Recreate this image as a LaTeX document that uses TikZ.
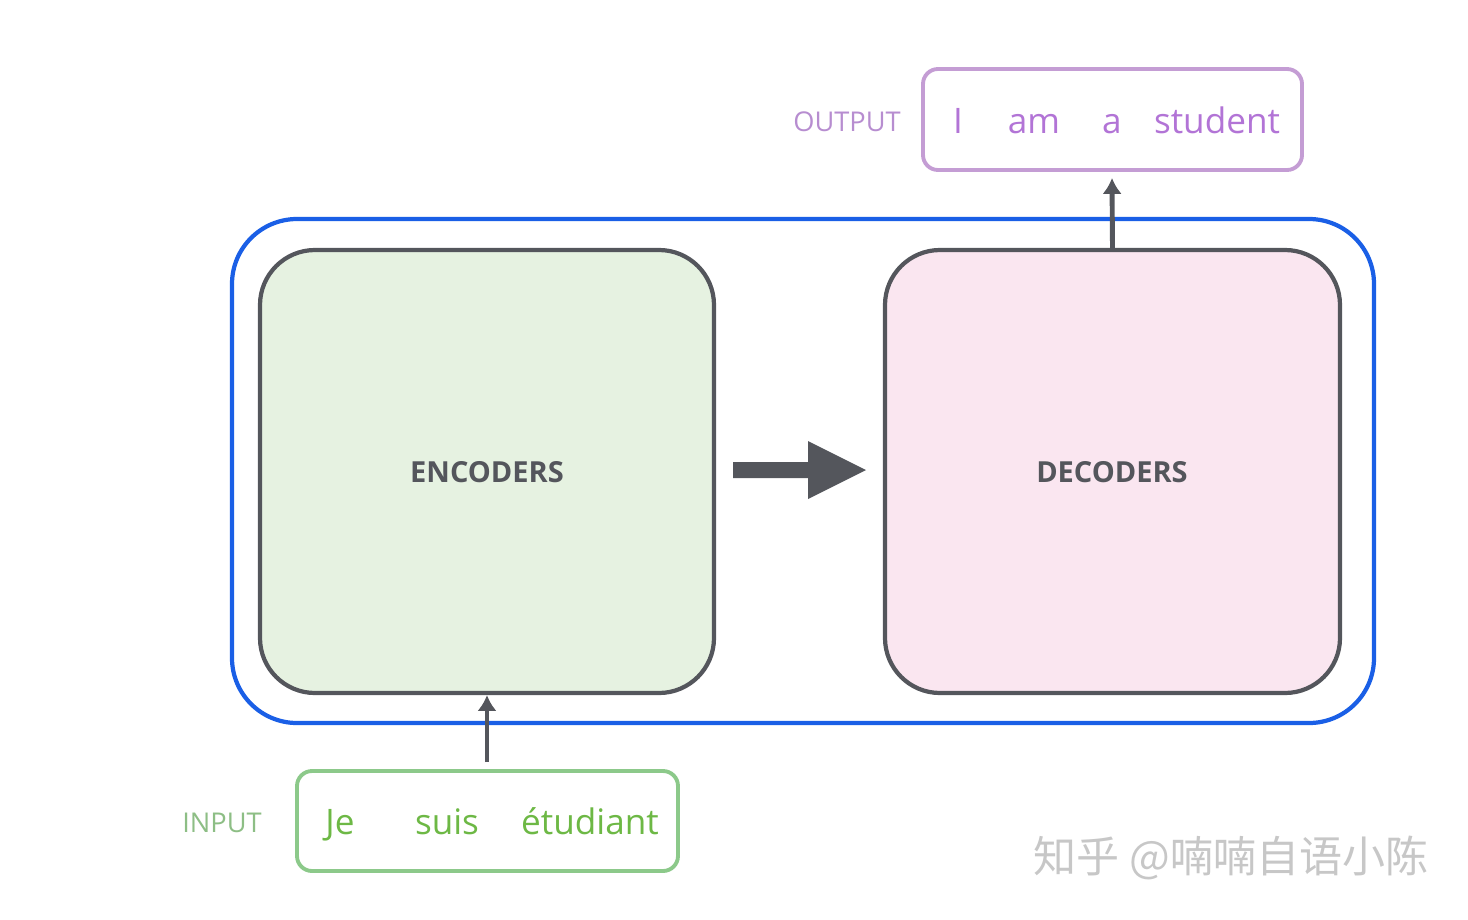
\documentclass[tikz,border=0pt]{standalone}
\usetikzlibrary{arrows.meta}
\usepackage{fontspec}
\setmainfont{Open Sans}
\newfontfamily\cjk{Noto Sans CJK SC}
\definecolor{gr}{HTML}{54565C}
\definecolor{bl}{HTML}{1A5FE6}
\definecolor{encf}{HTML}{E6F2E1}
\definecolor{decf}{HTML}{FAE6F0}
\definecolor{ing}{HTML}{8CC98A}
\definecolor{intxt}{HTML}{6DB845}
\definecolor{inlab}{HTML}{8DBE85}
\definecolor{outp}{HTML}{C49DD4}
\definecolor{outtxt}{HTML}{B274D6}
\definecolor{outlab}{HTML}{B78DD0}
\begin{document}
\begin{tikzpicture}[x=0.02cm,y=-0.02cm,
  blk/.style={draw=gr,line width=2.4pt,rounded corners=1.1cm},
  big/.style={font=\fontsize{16.5}{18}\selectfont\bfseries,text=gr},
  word/.style={font=\fontsize{20}{22}\selectfont,anchor=base},
  lab/.style={font=\fontsize{15.5}{18}\selectfont,anchor=base},
  arr/.style={draw=gr,line width=2.8pt,-{Latex[length=9pt,width=11pt]}}]
\useasboundingbox (0,0) rectangle (1468,920);
\draw[bl,line width=2.4pt,rounded corners=1.3cm] (232,219) rectangle (1374,723);
\node[blk,fill=encf,minimum width=454*0.02cm,minimum height=443*0.02cm] (enc) at (487,471.5) {};
\node[blk,fill=decf,minimum width=455*0.02cm,minimum height=443*0.02cm] (dec) at (1112.5,471.5) {};
\node[big] (enct) at (487,472) {ENCODERS};
\node[big] (dect) at (1112,472) {DECODERS};
\fill[gr] (733,462) -- (808,462) -- (808,441) -- (866,470) -- (808,499) -- (808,478) -- (733,478) -- cycle;
\node[draw=ing,line width=2.2pt,rounded corners=0.3cm,minimum width=381*0.02cm,minimum height=100*0.02cm] (inb) at (487.5,821) {};
\node[draw=outp,line width=2.2pt,rounded corners=0.3cm,minimum width=379*0.02cm,minimum height=101*0.02cm] (outb) at (1112.5,119.5) {};
\node[word,text=intxt] (w1) at (340,834) {Je};
\node[word,text=intxt] (w2) at (447,834) {suis};
\node[word,text=intxt] (w3) at (590,834) {étudiant};
\node[lab,text=inlab] (inl) at (222,832) {INPUT};
\node[word,text=outtxt] (o1) at (958,133) {I};
\node[word,text=outtxt] (o2) at (1034,133) {am};
\node[word,text=outtxt] (o3) at (1112,133) {a};
\node[word,text=outtxt] (o4) at (1217,133) {student};
\node[lab,text=outlab] (outl) at (847,131) {OUTPUT};
\coordinate (ia) at (487,762);
\draw[arr] (ia) -- (enc.south);
\coordinate (oa) at (1112,178);
\draw[arr] (dec.north) -- (oa);
\node[font=\cjk\fontsize{24.5}{26}\selectfont,text=black!22] (wm) at (1231,858) {知乎 @喃喃自语小陈};
\end{tikzpicture}
\end{document}
